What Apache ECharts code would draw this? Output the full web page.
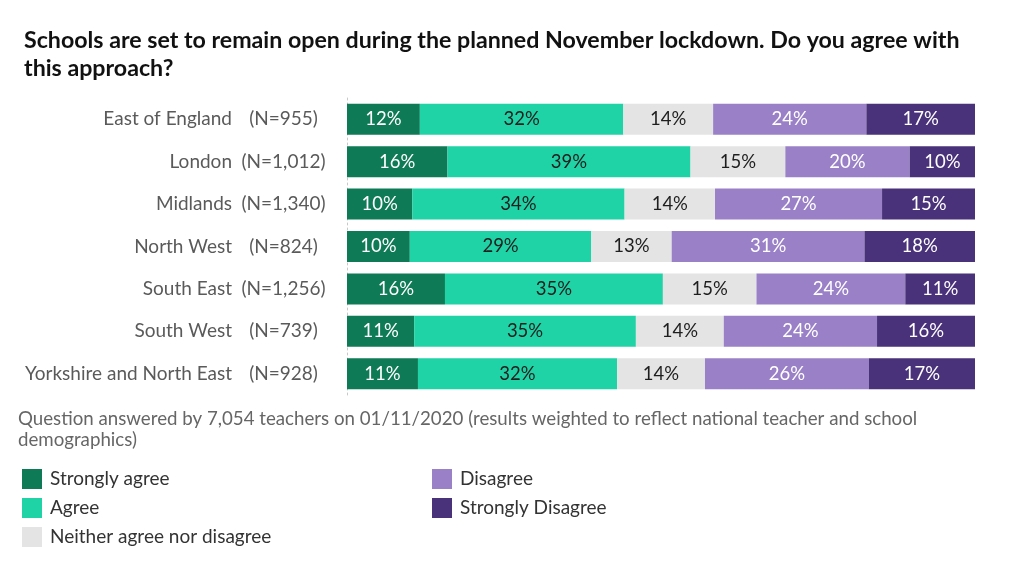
<!DOCTYPE html>
<html>
<head>
<meta charset="utf-8">
<script src="https://cdn.jsdelivr.net/npm/echarts@6/dist/echarts.min.js"></script>
<style>
html,body{margin:0;padding:0;background:#fff;}
#chart{width:1024px;height:585px;}
</style>
</head>
<body>
<div id="chart"></div>
<script>
var regions = ['East of England', 'London', 'Midlands', 'North West', 'South East', 'South West', 'Yorkshire and North East'];
var sampleSizes = ['(N=955)', '(N=1,012)', '(N=1,340)', '(N=824)', '(N=1,256)', '(N=739)', '(N=928)'];
var seriesNames = ['Strongly agree', 'Agree', 'Neither agree nor disagree', 'Disagree', 'Strongly Disagree'];
var stronglyAgree = [11.6, 16.0, 10.4, 10.0, 15.6, 10.7, 11.3];
var agree = [32.4, 38.7, 33.8, 28.9, 34.7, 35.3, 31.7];
var neither = [14.3, 15.1, 14.4, 12.8, 14.9, 14.0, 14.0];
var disagree = [24.4, 19.8, 26.6, 30.7, 23.7, 24.4, 26.1];
var stronglyDisagree = [17.3, 10.4, 14.8, 17.6, 11.1, 15.6, 16.9];

var colors = ['#0f7a56', '#20d3a6', '#e4e4e4', '#9a80c7', '#49327a'];
var labelColors = ['#ffffff', '#1e1e1e', '#1e1e1e', '#ffffff', '#ffffff'];
var allValues = [stronglyAgree, agree, neither, disagree, stronglyDisagree];
var FONT = 'Lato, "Noto Sans", sans-serif';

var series = seriesNames.map(function (name, i) {
  return {
    name: name,
    type: 'bar',
    stack: 'total',
    barWidth: 31,
    data: allValues[i],
    itemStyle: { color: colors[i] },
    label: {
      show: true,
      position: 'inside',
      color: labelColors[i],
      fontFamily: FONT,
      fontSize: 18.5,
      formatter: function (p) { return Math.round(p.value) + '%'; }
    },
    emphasis: { disabled: true }
  };
});

var chart = echarts.init(document.getElementById('chart'));
chart.setOption({
  backgroundColor: '#ffffff',
  animation: false,
  color: colors,
  title: {
    text: 'Schools are set to remain open during the planned November lockdown. Do you agree with\nthis approach?',
    left: 24,
    top: 27,
    padding: 0,
    textStyle: { fontFamily: FONT, fontSize: 23.2, fontWeight: 'bold', color: '#111111', lineHeight: 28 }
  },
  grid: { left: 347, right: 49, top: 98, height: 297, containLabel: false },
  xAxis: {
    type: 'value', min: 0, max: 100, show: false
  },
  yAxis: {
    type: 'category',
    data: regions,
    inverse: true,
    axisTick: { show: false },
    axisLine: { show: true, lineStyle: { color: '#c8c8c8', type: [2, 3], width: 1 } },
    axisLabel: {
      margin: 12,
      align: 'right',
      formatter: function (v, idx) {
        return '{n|' + v + '}{c|' + sampleSizes[idx] + '}';
      },
      rich: {
        n: { fontFamily: FONT, fontSize: 19, color: '#5a5a5a', align: 'right' },
        c: { fontFamily: FONT, fontSize: 19, color: '#5a5a5a', width: 103, align: 'center' }
      }
    }
  },
  legend: [
    {
      data: seriesNames.slice(0, 3),
      orient: 'vertical',
      left: 22, top: 469,
      padding: 0,
      itemWidth: 20, itemHeight: 20, itemGap: 9,
      icon: 'rect',
      selectedMode: false,
      textStyle: { fontFamily: FONT, fontSize: 19, color: '#333333', padding: [0, 0, 0, 3] }
    },
    {
      data: seriesNames.slice(3),
      orient: 'vertical',
      left: 432, top: 469,
      padding: 0,
      itemWidth: 20, itemHeight: 20, itemGap: 9,
      icon: 'rect',
      selectedMode: false,
      textStyle: { fontFamily: FONT, fontSize: 19, color: '#333333', padding: [0, 0, 0, 3] }
    }
  ],
  graphic: [
    {
      type: 'text',
      left: 18,
      top: 408,
      style: {
        text: 'Question answered by 7,054 teachers on 01/11/2020 (results weighted to reflect national teacher and school\ndemographics)',
        font: '18.7px ' + FONT,
        fill: '#666666',
        lineHeight: 21
      }
    }
  ],
  series: series
});
</script>
</body>
</html>
